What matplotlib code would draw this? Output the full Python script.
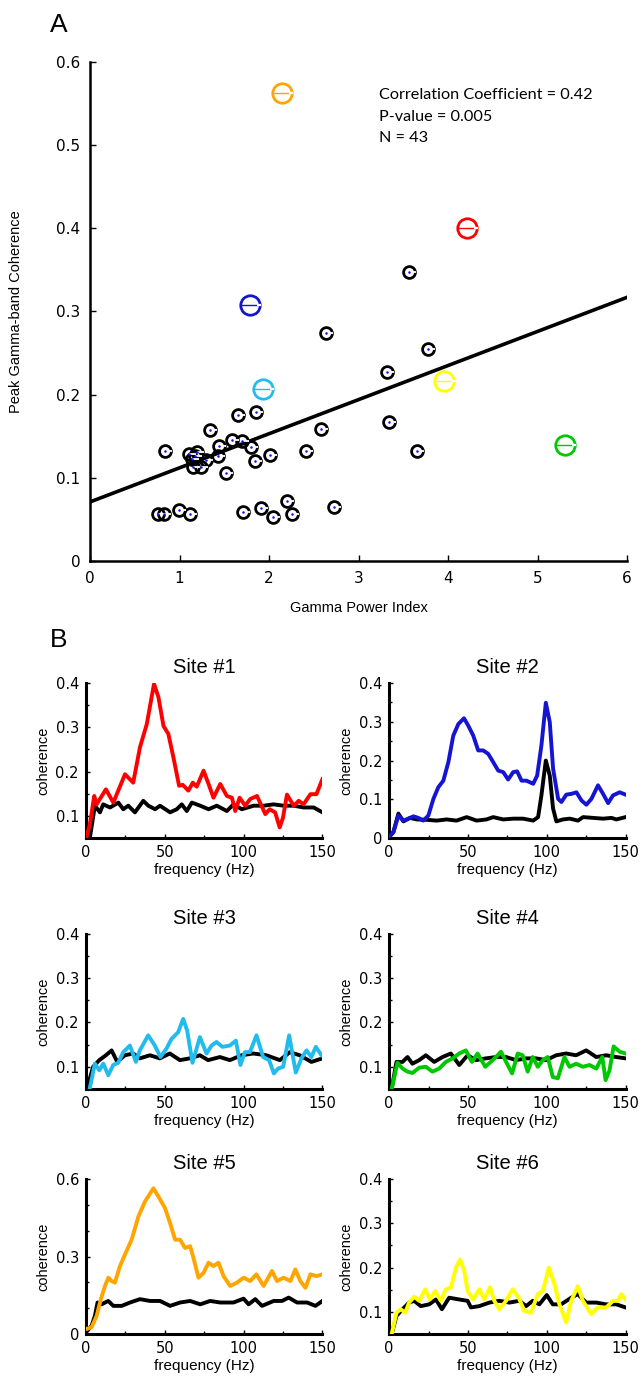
import numpy as np
import matplotlib
matplotlib.use('Agg')
import matplotlib.pyplot as plt
from matplotlib.path import Path

plt.rcParams.update({
    'font.family': ['Liberation Sans', 'DejaVu Sans'],
    'font.size': 10,
    'xtick.direction': 'in',
    'ytick.direction': 'in',
    'axes.spines.top': False,
    'axes.spines.right': False,
})

# ---- panel A data ----
power_idx = [0.84, 0.763, 0.827, 0.998, 1.117, 1.11, 1.17, 1.136, 1.19, 1.30,
             1.434, 1.154, 1.24, 1.52, 1.84, 2.01, 1.344, 1.587, 1.70, 1.795,
             1.44, 1.657, 1.85, 1.713, 1.907, 2.048, 2.197, 2.26, 2.41, 2.58,
             2.73, 2.637, 3.32, 3.345, 3.65, 3.777, 3.564]
peak_coh = [0.132, 0.057, 0.057, 0.061, 0.057, 0.129, 0.126, 0.123, 0.131, 0.121,
            0.126, 0.113, 0.113, 0.106, 0.120, 0.127, 0.157, 0.146, 0.144, 0.137,
            0.138, 0.1755, 0.179, 0.059, 0.064, 0.053, 0.0725, 0.0565, 0.1326, 0.1587,
            0.0645, 0.2745, 0.2276, 0.1675, 0.1323, 0.2545, 0.3475]

site_x = [4.21, 1.79, 1.93, 5.31, 2.145, 3.96]
site_y = [0.400, 0.308, 0.207, 0.139, 0.563, 0.216]
site_colors = ['#ff0000', '#1414d2', '#22bbee', '#00c800', '#ffa500', '#ffff00']

fit_intercept = 0.071
fit_slope = 0.041
stats_lines = ['Correlation Coefficient = 0.42', 'P-value = 0.005', 'N = 43']

# ---- panel B data: (frequency, coherence) for each site ----
s1_col_f = [0, 2.5, 5.3, 6.8, 12.7, 17.4, 24.8, 30, 34.3, 38.6, 43.2, 46, 49.2, 52.3,
            55.5, 59.1, 61.4, 65, 67.8, 70.3, 74.6, 77.8, 80.9, 85.2, 89.4, 92.6, 94.7,
            97.5, 101, 104.2, 108.5, 113.8, 116.5, 120, 122.9, 125, 127.5, 131.8, 135,
            138, 142.4, 146.2, 150]
s1_col_c = [0.047, 0.081, 0.145, 0.126, 0.16, 0.13, 0.194, 0.175, 0.255, 0.307, 0.398,
            0.368, 0.303, 0.285, 0.232, 0.168, 0.17, 0.157, 0.175, 0.166, 0.202, 0.172,
            0.141, 0.172, 0.145, 0.141, 0.111, 0.141, 0.123, 0.138, 0.145, 0.104, 0.115,
            0.108, 0.074, 0.096, 0.148, 0.123, 0.134, 0.126, 0.149, 0.149, 0.183]
s1_blk_f = [2.5, 5.7, 8.9, 11, 15.3, 20.6, 23.7, 26.9, 31.1, 36.4, 39.6, 43.9, 47, 53.4,
            57.6, 60.8, 64, 67.2, 72.5, 77.8, 83, 89.4, 93.6, 98.9, 106.4, 112.7, 119,
            125.4, 131.8, 138.1, 144.5, 150]
s1_blk_c = [0.05, 0.123, 0.108, 0.126, 0.119, 0.13, 0.115, 0.123, 0.108, 0.134, 0.123,
            0.115, 0.123, 0.108, 0.115, 0.126, 0.111, 0.13, 0.123, 0.115, 0.123, 0.111,
            0.126, 0.115, 0.123, 0.123, 0.126, 0.123, 0.123, 0.119, 0.119, 0.108]

s2_col_f = [0, 2.7, 5.9, 9.1, 12.2, 15.4, 18.6, 21.7, 24.9, 28.1, 31.2, 34.4, 37.6, 40.7,
            43.9, 47.5, 50.2, 53.4, 56.5, 59.7, 62.9, 66, 69.2, 72.4, 75.5, 78.7, 81.2,
            84, 87.1, 91.4, 93.9, 96.6, 99.4, 101.9, 104, 107.2, 109.3, 112.4, 115.6,
            118.8, 122, 125.1, 128.3, 132.5, 135.7, 138.9, 142, 146.2, 150]
s2_col_c = [0.003, 0.015, 0.058, 0.045, 0.05, 0.056, 0.052, 0.045, 0.058, 0.101, 0.131,
            0.148, 0.196, 0.264, 0.294, 0.309, 0.29, 0.264, 0.226, 0.226, 0.217, 0.196,
            0.174, 0.17, 0.151, 0.17, 0.172, 0.148, 0.148, 0.14, 0.161, 0.239, 0.349,
            0.299, 0.179, 0.101, 0.093, 0.112, 0.114, 0.118, 0.097, 0.086, 0.101, 0.136,
            0.114, 0.09, 0.11, 0.118, 0.112]
s2_blk_f = [0, 2.7, 5.9, 9.1, 13.3, 17.5, 23.8, 30.2, 36.5, 42.8, 49.2, 55.5, 61.8, 66,
            72.4, 78.7, 85, 91.4, 94.5, 96.6, 99.4, 101.9, 104, 106.1, 110.3, 114.6,
            119.8, 123, 129.4, 135.7, 141, 144.1, 150]
s2_blk_c = [0.003, 0.015, 0.063, 0.043, 0.052, 0.048, 0.047, 0.045, 0.048, 0.045, 0.054,
            0.045, 0.048, 0.054, 0.048, 0.05, 0.05, 0.045, 0.054, 0.11, 0.2, 0.161, 0.076,
            0.043, 0.048, 0.05, 0.045, 0.054, 0.052, 0.05, 0.052, 0.048, 0.054]

s3_col_f = [2.5, 5.7, 8.5, 11, 14.2, 17.3, 20.5, 23.7, 27.9, 31.7, 34.2, 39.5, 43.7, 47.3,
            51.1, 54.3, 58.5, 61.7, 64.2, 67.6, 72.3, 76.5, 79.7, 82.8, 86.6, 91.3, 95.1,
            98, 100.8, 104, 108.2, 112.4, 116.2, 119.2, 121.9, 125.1, 128.9, 133.1, 136.7,
            139.9, 143, 145.8, 149.4]
s3_col_c = [0.052, 0.107, 0.092, 0.107, 0.081, 0.104, 0.109, 0.133, 0.148, 0.111, 0.137,
            0.171, 0.148, 0.122, 0.141, 0.163, 0.178, 0.208, 0.182, 0.109, 0.167, 0.13,
            0.148, 0.156, 0.145, 0.148, 0.159, 0.104, 0.133, 0.133, 0.171, 0.122, 0.115,
            0.085, 0.096, 0.1, 0.171, 0.087, 0.119, 0.137, 0.122, 0.145, 0.126]
s3_blk_f = [0.8, 4.6, 8.5, 12.7, 16.3, 19.9, 24.7, 30, 34.2, 40.6, 46.9, 53.2, 59.6, 65.9,
            72.3, 77.5, 85, 91.3, 98.7, 106.1, 114.5, 123, 129.3, 135.6, 143, 150]
s3_blk_c = [0.052, 0.1, 0.115, 0.126, 0.137, 0.111, 0.126, 0.13, 0.119, 0.126, 0.119,
            0.13, 0.115, 0.119, 0.126, 0.115, 0.122, 0.115, 0.126, 0.13, 0.126, 0.115,
            0.133, 0.126, 0.111, 0.119]

s4_col_f = [1.7, 5.3, 8.5, 11.7, 14.8, 19.1, 23.3, 27.5, 31.8, 36, 40.3, 44.5, 48.7, 52.5,
            56.1, 61, 65.7, 71, 74.2, 78, 81.6, 84.7, 87.9, 91.1, 94.3, 97.5, 100.6, 103.8,
            107, 111.2, 114.4, 118.6, 122.9, 127.1, 131.4, 135.2, 137.3, 139.8, 142.4,
            146.2, 150]
s4_col_c = [0.051, 0.109, 0.096, 0.089, 0.086, 0.098, 0.1, 0.089, 0.096, 0.111, 0.119,
            0.13, 0.137, 0.111, 0.13, 0.1, 0.115, 0.134, 0.111, 0.085, 0.13, 0.126, 0.089,
            0.122, 0.1, 0.115, 0.122, 0.077, 0.074, 0.122, 0.1, 0.107, 0.1, 0.104, 0.096,
            0.122, 0.07, 0.092, 0.146, 0.134, 0.13]
s4_blk_f = [1.7, 4.7, 8.5, 11.7, 14.8, 19.1, 23.3, 28.6, 33.9, 39.2, 44.5, 49.8, 55.1,
            61.4, 67.8, 74.2, 80.5, 86.9, 93.2, 99.6, 106, 112.3, 118.6, 125, 131.4,
            137.7, 144.1, 150]
s4_blk_c = [0.051, 0.111, 0.111, 0.122, 0.107, 0.115, 0.126, 0.111, 0.122, 0.13, 0.104,
            0.126, 0.115, 0.119, 0.122, 0.122, 0.115, 0.119, 0.119, 0.115, 0.126, 0.13,
            0.126, 0.137, 0.122, 0.126, 0.122, 0.119]

s5_col_f = [0, 3.6, 6.8, 9.5, 12.1, 14.2, 16.3, 18.4, 21.6, 24.8, 29, 33.3, 37.5, 42.8,
            46, 50.2, 53.4, 56.6, 59.7, 62.9, 66.1, 68.2, 71.4, 74.6, 77.8, 80.9, 84.1,
            87.3, 91.5, 95.8, 100, 104.2, 108.1, 112.7, 118, 121.2, 125.4, 129.7, 132.8,
            136, 139.2, 142.4, 146.2, 150]
s5_col_c = [0.019, 0.026, 0.07, 0.135, 0.186, 0.218, 0.205, 0.199, 0.263, 0.308, 0.365,
            0.455, 0.513, 0.564, 0.532, 0.487, 0.429, 0.365, 0.365, 0.333, 0.34, 0.295,
            0.218, 0.237, 0.276, 0.263, 0.276, 0.224, 0.186, 0.199, 0.218, 0.205, 0.231,
            0.186, 0.244, 0.205, 0.218, 0.205, 0.25, 0.205, 0.179, 0.231, 0.224, 0.231]
s5_blk_f = [0, 3.6, 5.7, 7.4, 9.9, 14.2, 17.4, 22.7, 28, 34.3, 40.7, 47, 53.4, 59.7,
            66.1, 72.5, 78.8, 85.2, 93.6, 100, 103.2, 107.4, 111.7, 119.1, 124.4, 128.6,
            133.9, 140.3, 145.6, 150]
s5_blk_c = [0.006, 0.032, 0.07, 0.122, 0.115, 0.128, 0.109, 0.109, 0.122, 0.135, 0.128,
            0.128, 0.109, 0.122, 0.128, 0.115, 0.128, 0.122, 0.122, 0.137, 0.115, 0.135,
            0.109, 0.128, 0.128, 0.141, 0.122, 0.122, 0.109, 0.128]

s6_col_f = [1.7, 4.7, 7.4, 10.2, 12.7, 15.9, 19.1, 22.9, 25.8, 29.2, 32.8, 36, 39.2,
            42.4, 45.1, 47.7, 49.8, 53.4, 57.2, 60.4, 64, 66.7, 69.9, 74.2, 78.4, 82.2,
            85.8, 90, 94.3, 97.5, 101.3, 104.9, 108, 112.3, 115.5, 119.7, 122.9, 128.2,
            132.4, 137.7, 142, 145.1, 147.2, 150]
s6_col_c = [0.051, 0.098, 0.106, 0.098, 0.121, 0.134, 0.125, 0.151, 0.128, 0.147, 0.125,
            0.151, 0.155, 0.2, 0.218, 0.192, 0.147, 0.128, 0.151, 0.128, 0.156, 0.125,
            0.106, 0.125, 0.151, 0.132, 0.102, 0.098, 0.14, 0.147, 0.2, 0.162, 0.117,
            0.076, 0.125, 0.158, 0.125, 0.095, 0.11, 0.11, 0.125, 0.125, 0.14, 0.128]
s6_blk_f = [1.7, 4.7, 8.5, 12.7, 15.9, 20.1, 25.4, 29.7, 33.5, 38.1, 44.5, 49.8, 51.9,
            57.2, 63.6, 69.9, 76.3, 82.6, 86.9, 91.1, 95.3, 100, 103.8, 109.1, 115.5,
            119.7, 125, 131.4, 137.7, 144.1, 150]
s6_blk_c = [0.051, 0.091, 0.106, 0.121, 0.125, 0.113, 0.117, 0.128, 0.106, 0.132, 0.128,
            0.125, 0.11, 0.113, 0.121, 0.125, 0.121, 0.125, 0.113, 0.125, 0.117, 0.138,
            0.117, 0.117, 0.132, 0.14, 0.121, 0.121, 0.117, 0.117, 0.11]

sites = [
    ('Site #1', s1_col_f, s1_col_c, s1_blk_f, s1_blk_c, (0.05, 0.4), [0.1, 0.2, 0.3, 0.4]),
    ('Site #2', s2_col_f, s2_col_c, s2_blk_f, s2_blk_c, (0.0, 0.4), [0, 0.1, 0.2, 0.3, 0.4]),
    ('Site #3', s3_col_f, s3_col_c, s3_blk_f, s3_blk_c, (0.05, 0.4), [0.1, 0.2, 0.3, 0.4]),
    ('Site #4', s4_col_f, s4_col_c, s4_blk_f, s4_blk_c, (0.05, 0.4), [0.1, 0.2, 0.3, 0.4]),
    ('Site #5', s5_col_f, s5_col_c, s5_blk_f, s5_blk_c, (0.0, 0.6), [0, 0.3, 0.6]),
    ('Site #6', s6_col_f, s6_col_c, s6_blk_f, s6_blk_c, (0.05, 0.4), [0.1, 0.2, 0.3, 0.4]),
]

fig = plt.figure(figsize=(6.41, 13.77), dpi=100)

# half-line markers: centre -> right edge, and a short piece on the right rim
half_right = Path([[0, 0], [1, 0]])
rim_right = Path([[0.72, 0], [1.1, 0]])

tick_font = {'family': 'DejaVu Sans'}

# ===== Panel A =====
ax = fig.add_axes([0.1404, 0.5926, 0.8378, 0.3624])
xx = np.array([0, 6])
ax.plot(xx, fit_intercept + fit_slope * xx, color='k', lw=2.6, zorder=2)
ax.plot(power_idx, peak_coh, 'o', ms=8.5, mfc='none', mec='k', mew=2.0, zorder=3)
ax.plot(power_idx, peak_coh, ls='none', marker=half_right, ms=10, mec='white',
        mfc='none', mew=1.3, zorder=4)
ax.plot(power_idx, peak_coh, 'o', ms=1.8, color='#1010ff', mew=0, zorder=5)
for sx, sy, c in zip(site_x, site_y, site_colors):
    ax.plot(sx, sy, 'o', ms=14, mfc='none', mec=c, mew=2.0, zorder=3)
    ax.plot(sx, sy, marker='_', ms=13, mec=c, mew=1.0, zorder=4)
    ax.plot(sx, sy, marker=rim_right, ms=16, mec='white', mfc='none', mew=1.6, zorder=5)
ax.set_xlim(0, 6)
ax.set_ylim(0, 0.6)
ax.set_xticks(range(7))
ax.set_xticklabels([str(v) for v in range(7)], fontdict=tick_font)
ax.set_yticks([0, 0.1, 0.2, 0.3, 0.4, 0.5, 0.6])
ax.set_yticklabels(['0', '0.1', '0.2', '0.3', '0.4', '0.5', '0.6'], fontdict=tick_font)
ax.tick_params(labelsize=11, length=4, width=1, pad=7)
ax.spines['left'].set_linewidth(1.8)
ax.spines['bottom'].set_linewidth(1.8)
ax.set_xlabel('Gamma Power Index', fontsize=10.5, labelpad=11)
ax.set_ylabel('Peak Gamma-band Coherence', fontsize=10.5, labelpad=24)
for i, s in enumerate(stats_lines):
    ax.text(3.23, 0.56 - i * 0.0259, s, fontsize=11.7, family='Lato', va='center')

fig.text(0.078, 0.982, 'A', fontsize=19, ha='left', va='center')
fig.text(0.078, 0.535, 'B', fontsize=19, ha='left', va='center')

# ===== Panel B =====
col_left = [0.134, 0.607]
row_bottom = [0.3914, 0.2092, 0.0312]
for k, (title, cf, cc, bf, bc, ylim, yt) in enumerate(sites):
    r, c = divmod(k, 2)
    bx = fig.add_axes([col_left[c], row_bottom[r], 0.369, 0.1126])
    bx.plot(bf, bc, color='k', lw=2.8, zorder=2)
    bx.plot(cf, cc, color=site_colors[k], lw=2.8, zorder=3)
    bx.set_xlim(0, 150)
    bx.set_ylim(*ylim)
    bx.set_xticks([0, 50, 100, 150])
    bx.set_xticklabels(['0', '50', '100', '150'], fontdict=tick_font)
    bx.set_yticks(yt)
    bx.set_yticklabels([f'{v:g}' for v in yt], fontdict=tick_font)
    if ylim[1] == 0.6:
        bx.set_yticks([0.1, 0.2, 0.4, 0.5], minor=True)
    else:
        bx.set_yticks([0.15, 0.25, 0.35], minor=True)
    bx.set_xticks([25, 75, 125], minor=True)
    bx.tick_params(labelsize=10.5, length=3, width=1, pad=5)
    bx.tick_params(which='minor', length=2, width=1)
    bx.spines['left'].set_linewidth(2.2)
    bx.spines['bottom'].set_linewidth(2.2)
    bx.set_title(title, fontsize=14.5, pad=7)
    bx.set_xlabel('frequency (Hz)', fontsize=11, labelpad=2)
    bx.set_ylabel('coherence', fontsize=10.5, labelpad=4)

plt.savefig('out.png', dpi=100)
plt.close()
